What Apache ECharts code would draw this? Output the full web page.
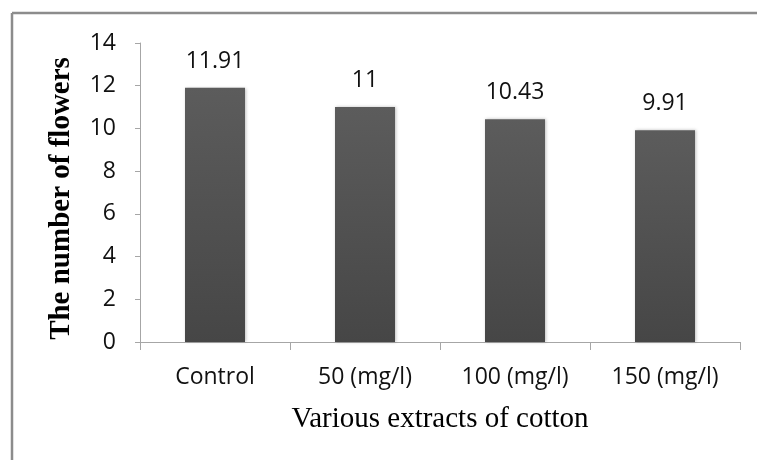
<!DOCTYPE html>
<html>
<head>
<meta charset="utf-8">
<script src="https://cdn.jsdelivr.net/npm/echarts@6/dist/echarts.min.js"></script>
<style>
html,body{margin:0;padding:0;background:#fff;}
#chart{width:757px;height:460px;}
</style>
</head>
<body>
<div id="chart"></div>
<script>
var categories = ['Control', '50 (mg/l)', '100 (mg/l)', '150 (mg/l)'];
var flowers = [11.91, 11, 10.43, 9.91];
var valueLabels = ['11.91', '11', '10.43', '9.91'];
var yTitle = 'The number of flowers';
var xTitle = 'Various extracts of cotton';

var chart = echarts.init(document.getElementById('chart'), null, {renderer: 'canvas'});
var axisColor = '#a6a6a6';
var sans = '"Open Sans", sans-serif';
var serif = '"Liberation Serif", "Times New Roman", serif';

chart.setOption({
  animation: false,
  backgroundColor: '#fff',
  grid: {left: 140, right: 17, top: 43, bottom: 118},
  xAxis: {
    type: 'category',
    data: categories,
    boundaryGap: true,
    axisLine: {show: true, lineStyle: {color: axisColor, width: 1}},
    axisTick: {show: true, length: 8, alignWithLabel: false, lineStyle: {color: axisColor}},
    axisLabel: {margin: 24, fontFamily: sans, fontSize: 23, color: '#111'},
    name: xTitle,
    nameLocation: 'middle',
    nameGap: 63,
    nameTextStyle: {fontFamily: serif, fontSize: 29, color: '#000'}
  },
  yAxis: {
    type: 'value',
    min: 0, max: 14, interval: 2,
    axisLine: {show: true, lineStyle: {color: axisColor, width: 1}},
    axisTick: {show: true, length: 5, inside: false, lineStyle: {color: axisColor}},
    splitLine: {show: false},
    axisLabel: {margin: 24, fontFamily: sans, fontSize: 23, color: '#111'},
    name: yTitle,
    nameLocation: 'middle',
    nameGap: 64,
    nameTextStyle: {fontFamily: serif, fontSize: 29, fontWeight: 'bold', color: '#000', padding: [0, 12, 0, 0]}
  },
  series: [{
    type: 'bar',
    data: flowers,
    barWidth: 60,
    itemStyle: {
      color: new echarts.graphic.LinearGradient(0, 0, 0, 1, [
        {offset: 0, color: '#5c5c5c'},
        {offset: 1, color: '#464646'}
      ]),
      shadowColor: 'rgba(0,0,0,0.25)',
      shadowBlur: 3,
      shadowOffsetX: 1
    },
    label: {
      show: true,
      position: 'top',
      distance: 15,
      fontFamily: sans,
      fontSize: 23,
      color: '#111',
      formatter: function (p) { return valueLabels[p.dataIndex]; }
    }
  }],
  graphic: [
    {type: 'line', shape: {x1: 12, y1: 13, x2: 757, y2: 13}, style: {stroke: '#8c8c8c', lineWidth: 2.5}},
    {type: 'line', shape: {x1: 12, y1: 13, x2: 12, y2: 460}, style: {stroke: '#8c8c8c', lineWidth: 2.5}}
  ]
});
</script>
</body>
</html>
